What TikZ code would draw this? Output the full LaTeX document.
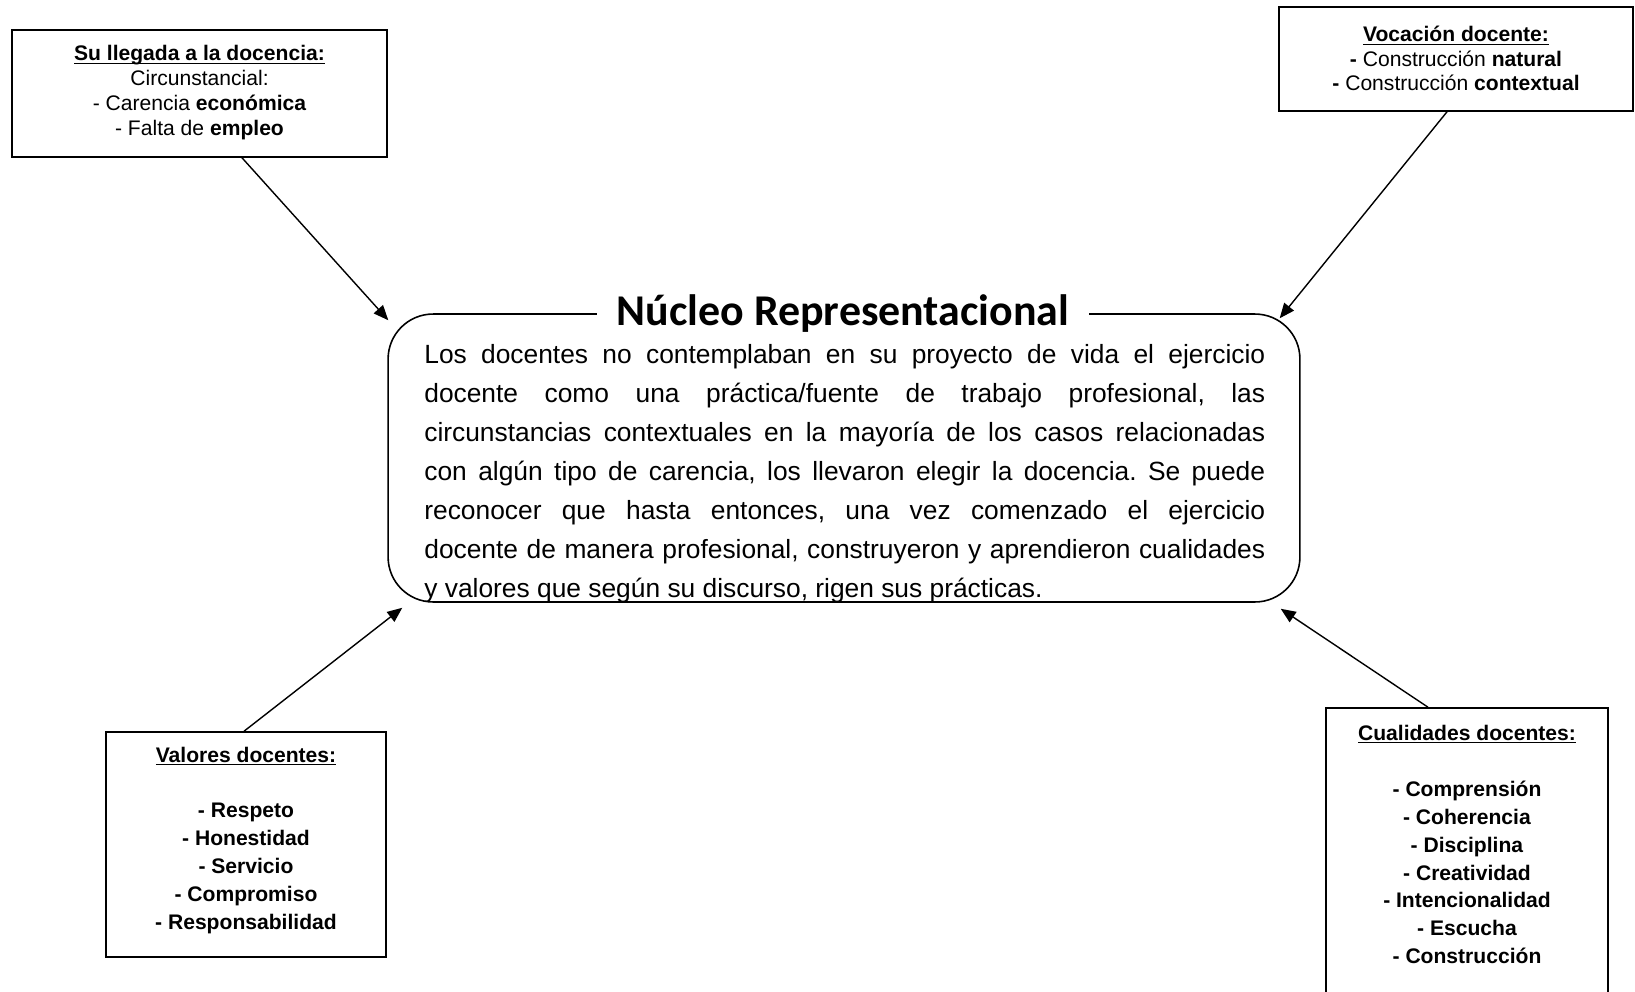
\documentclass[tikz,border=0pt]{standalone}
\usepackage{fontspec}
\setmainfont{Liberation Sans}
\newfontfamily\titlefont{Carlito}
\usepackage{tikz}
\usetikzlibrary{calc, arrows.meta}

\tolerance=9999
\hyphenpenalty=10000
\frenchspacing
\newcommand{\titulo}[1]{\underline{\smash{\textbf{#1}}}}
\newcommand{\alto}[1]{\rule{0pt}{#1}}

\begin{document}
\begin{tikzpicture}[x=0.02cm, y=-0.02cm,
    caja/.style={draw, line width=0.9pt, inner sep=0pt, align=center},
    flecha/.style={-{Triangle[length=8.5pt, width=7pt]}, line width=0.8pt}]
    \useasboundingbox (0, 0) rectangle (1635, 991);
    \clip (0, 0) rectangle (1635, 991);

    \node[caja, minimum width=7.5cm, minimum height=2.54cm, font=\fontsize{12}{14.2}\selectfont] (llegada) at (199.5, 93.5)
        {\alto{7.4pt}\titulo{Su llegada a la docencia:}\\ Circunstancial:\\ - Carencia \textbf{económica}\\ - Falta de \textbf{empleo}};
    \node[caja, minimum width=7.08cm, minimum height=2.08cm, font=\fontsize{12}{14}\selectfont] (vocacion) at (1456, 59)
        {\alto{8.5pt}\titulo{Vocación docente:}\\ \textbf{-} Construcción \textbf{natural}\\ \textbf{-} Construcción \textbf{contextual}};
    \node[caja, minimum width=5.6cm, minimum height=4.5cm, font=\fontsize{12}{15.9}\selectfont] (valores) at (246, 844.5)
        {\alto{4pt}\titulo{Valores docentes:}\\[15.9pt] \textbf{- Respeto}\\ \textbf{- Honestidad}\\ \textbf{- Servicio}\\
         \textbf{- Compromiso}\\ \textbf{- Responsabilidad}};
    \node[caja, minimum width=5.64cm, minimum height=6.04cm, font=\fontsize{12}{15.9}\selectfont] (cualidades) at (1467, 859)
        {\alto{8pt}\titulo{Cualidades docentes:}\\[15.9pt] \textbf{- Comprensión}\\ \textbf{- Coherencia}\\ \textbf{- Disciplina}\\
         \textbf{- Creatividad}\\ \textbf{- Intencionalidad}\\ \textbf{- Escucha}\\ \textbf{- Construcción}\\ \mbox{}};

    % nucleo central
    \node[draw, rounded corners=0.9cm, line width=0.9pt, minimum width=18.24cm, minimum height=5.76cm] (nucleo) at (844, 458) {};
    \node[fill=white, inner xsep=11pt, inner ysep=1pt, anchor=base, font=\fontsize{25}{29}\titlefont\bfseries] (titulo) at (843, 325)
        {Núcleo Representacional};
    \begin{scope}
        \clip (388, 330) rectangle (1300, 601);
        \node[anchor=north west, inner sep=0pt, text width=16.82cm, align=justify, font=\fontsize{15}{22.2}\selectfont] (texto) at (424, 344)
            {Los docentes no contemplaban en su proyecto de vida el ejercicio\linebreak
             docente como una práctica/fuente de trabajo profesional, las\linebreak
             circunstancias contextuales en la mayoría de los casos relacionadas\linebreak
             con algún tipo de carencia, los llevaron elegir la docencia. Se puede\linebreak
             reconocer que hasta entonces, una vez comenzado el ejercicio\linebreak
             docente de manera profesional, construyeron y aprendieron cualidades\linebreak
             y valores que según su discurso, rigen sus prácticas.};
    \end{scope}

    \draw[flecha] ($(llegada.south)+(42.5, 0)$) -- ($(nucleo.north west)+(1, 7)$);
    \draw[flecha] ($(vocacion.south)+(-9, 0)$) -- ($(nucleo.north east)+(-21, 5)$);
    \draw[flecha] ($(valores.north)+(-2, 0)$) -- ($(nucleo.south west)+(15, 5)$);
    \draw[flecha] ($(cualidades.north)+(-39, 0)$) -- ($(nucleo.south east)+(-20, 6)$);
\end{tikzpicture}
\end{document}
